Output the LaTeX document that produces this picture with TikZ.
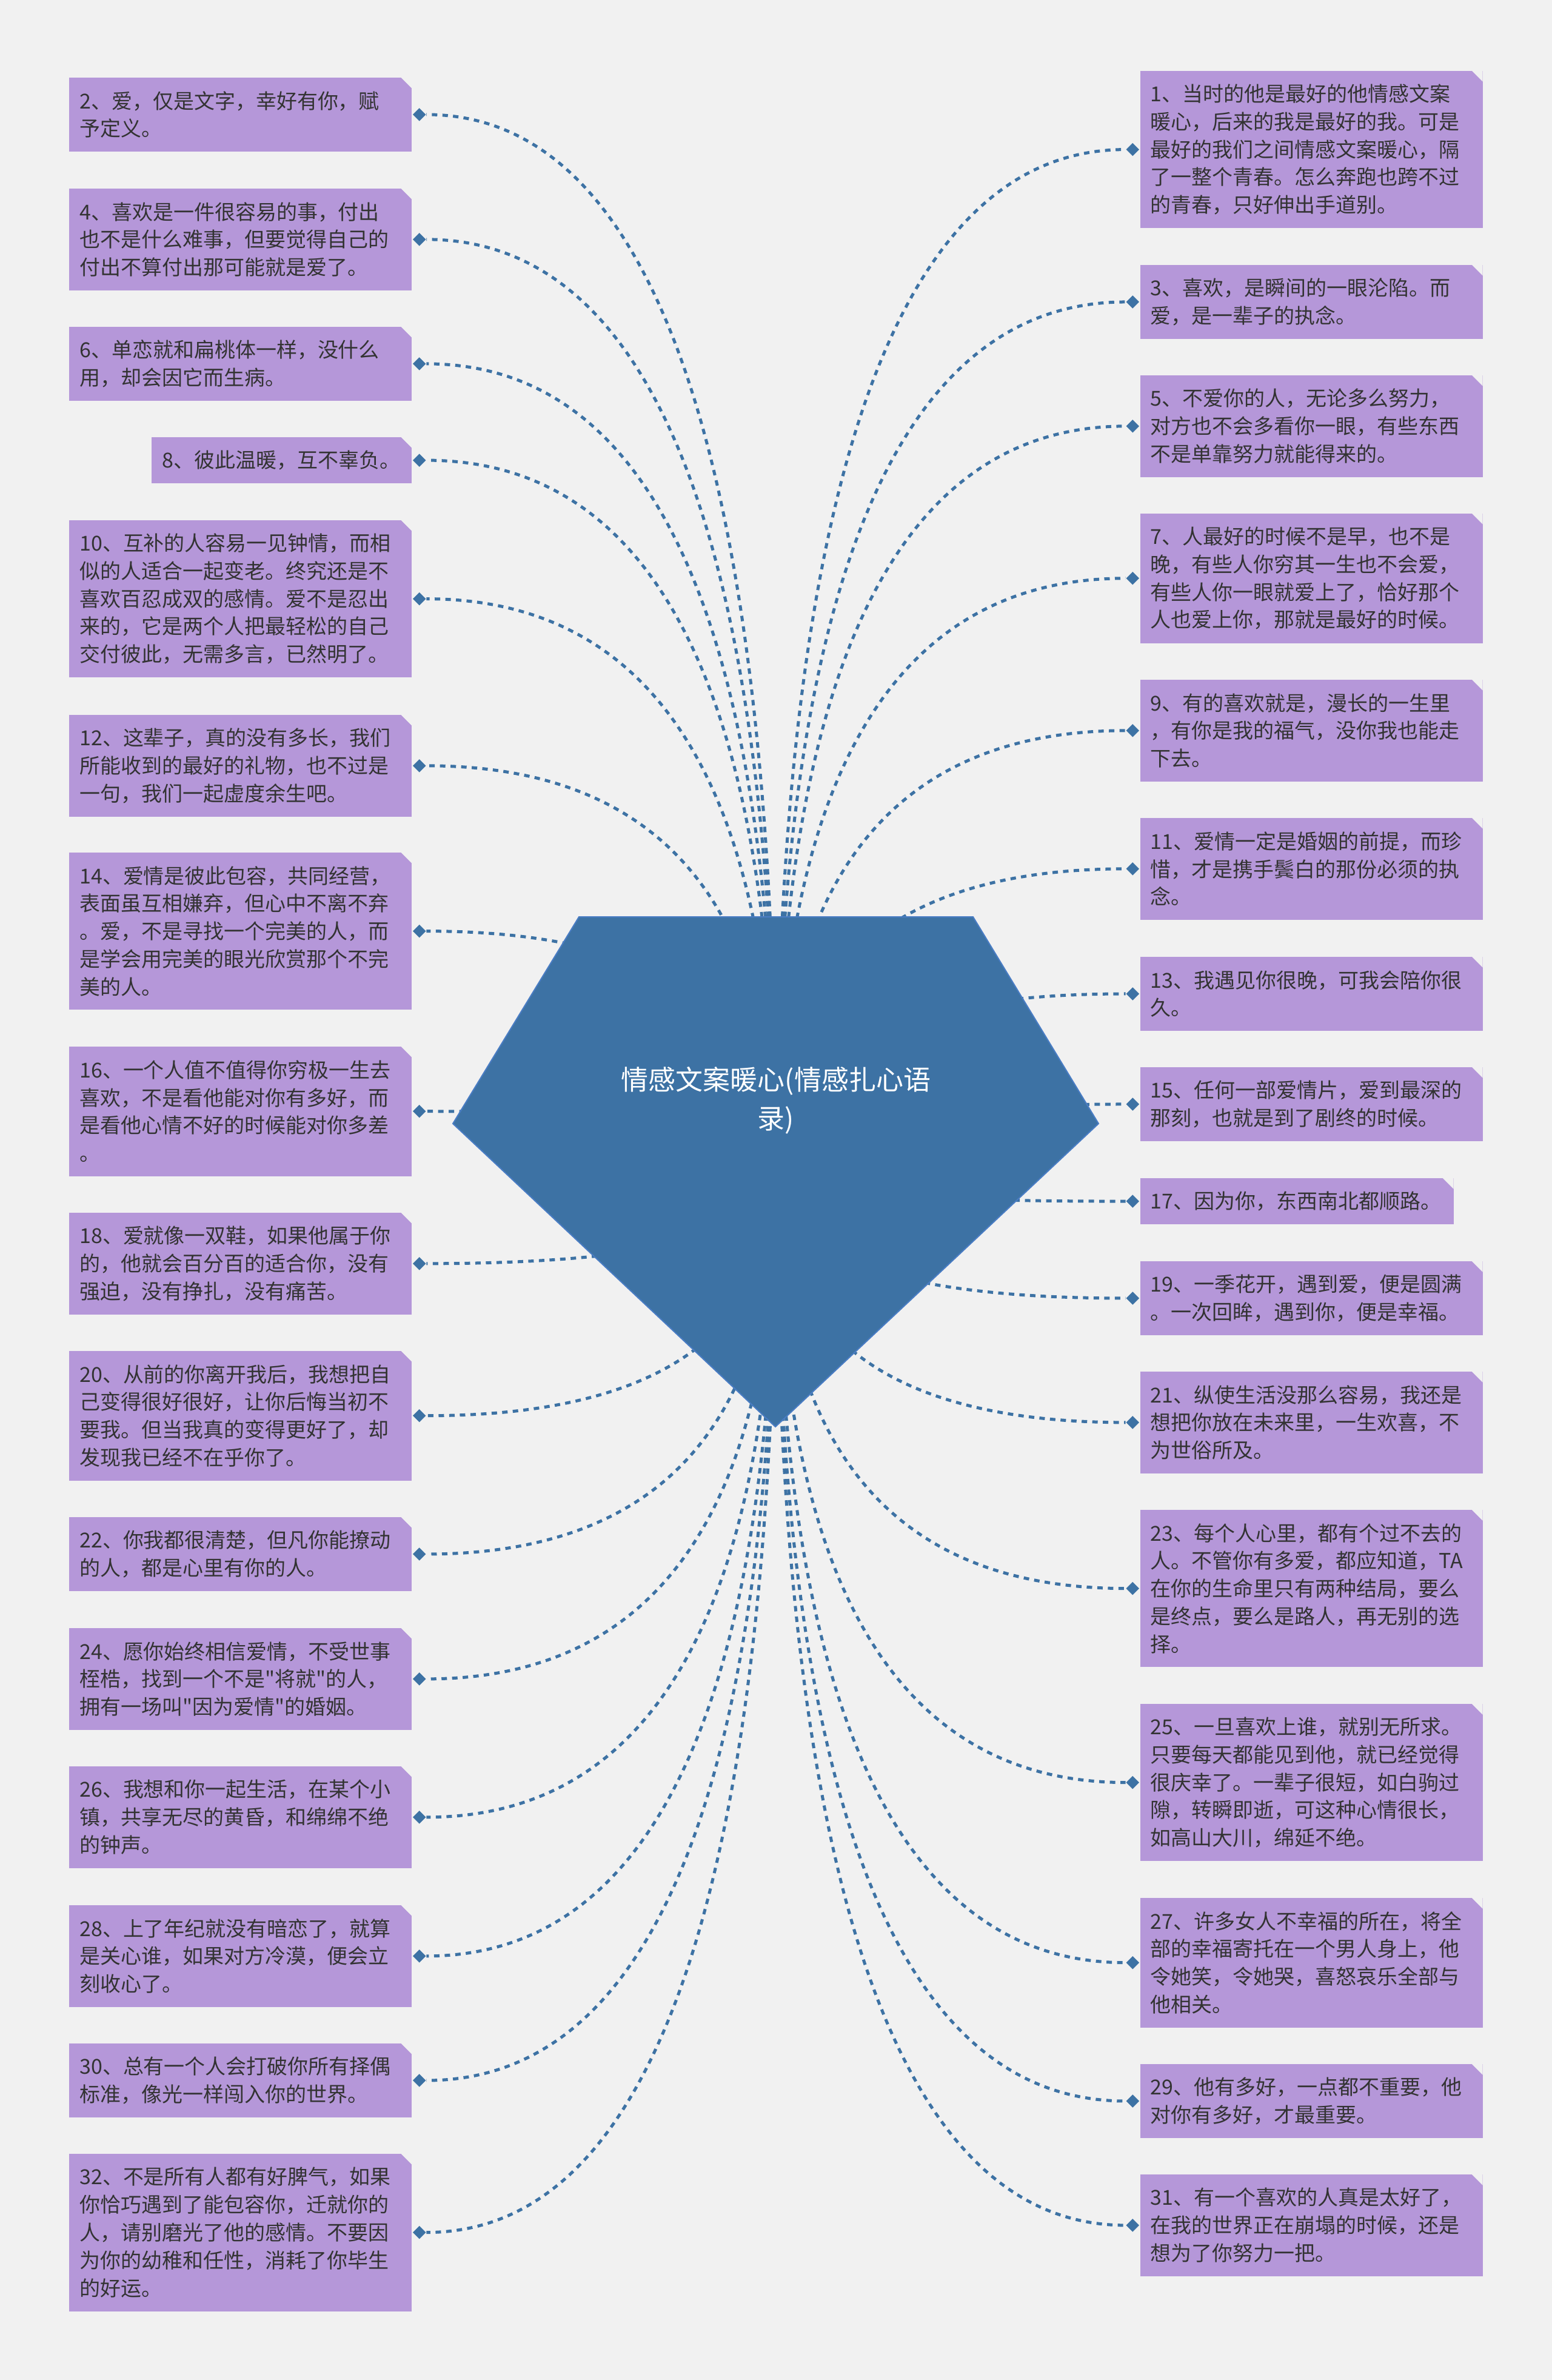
\documentclass[tikz,border=0pt]{standalone}
\usepackage{fontspec}
\setmainfont{Noto Sans CJK SC}[Ligatures=TeXOff]
\usetikzlibrary{calc,shapes.geometric}
\definecolor{paper}{HTML}{F1F1F1}
\definecolor{hubblue}{HTML}{3D72A4}
\definecolor{hubedge}{HTML}{4A7DC4}
\definecolor{leafpurple}{HTML}{B597D9}
\definecolor{ink}{HTML}{333333}
\tikzset{
  leaf/.style={fill=leafpurple, text=ink, font=\fontsize{9.67pt}{13.02pt}\selectfont,
    align=left, text width=53.1mm, inner xsep=1.7mm, inner ysep=0pt,
    minimum height=3.1mm+4.575mm*#1,
    path picture={\fill[paper] (path picture bounding box.north east) -- ++(-1.8mm,0) -- ++(1.8mm,-1.8mm) -- cycle;}},
  lleaf/.style={leaf=#1, anchor=north east},
  rleaf/.style={leaf=#1, anchor=north west},
  knot/.style={diamond, fill=hubblue, inner sep=0pt, minimum width=2.2mm, minimum height=2.2mm},
  link/.style={hubblue, line width=0.5mm, dash pattern=on 0.9mm off 0.85mm},
  roottext/.style={text=white, align=center, font=\fontsize{12.8pt}{18.2pt}\selectfont}
}
\def\twig(#1){\draw[link] (hub) .. controls ($(hub)!.667!(hub|-#1)$) and ($(#1)!.667!(hub|-#1)$) .. (#1);}

\begin{document}
\begin{tikzpicture}
		%%%%% START %%%%%
		
		\fill[paper] (0, 0) rectangle (25.6, -39.25);
		
		% left column
		\node[lleaf=2] (b2) at (6.80, -1.27) {2、爱，仅是文字，幸好有你，赋\\予定义。};
		\node[lleaf=3] (b4) at (6.80, -3.10) {4、喜欢是一件很容易的事，付出\\也不是什么难事，但要觉得自己的\\付出不算付出那可能就是爱了。};
		\node[lleaf=2] (b6) at (6.80, -5.38) {6、单恋就和扁桃体一样，没什么\\用，却会因它而生病。};
		\node[lleaf=1, text width=39.5mm] (b8) at (6.80, -7.20) {8、彼此温暖，互不辜负。};
		\node[lleaf=5] (b10) at (6.80, -8.57) {10、互补的人容易一见钟情，而相\\似的人适合一起变老。终究还是不\\喜欢百忍成双的感情。爱不是忍出\\来的，它是两个人把最轻松的自己\\交付彼此，无需多言，已然明了。};
		\node[lleaf=3] (b12) at (6.80, -11.78) {12、这辈子，真的没有多长，我们\\所能收到的最好的礼物，也不过是\\一句，我们一起虚度余生吧。};
		\node[lleaf=5] (b14) at (6.80, -14.05) {14、爱情是彼此包容，共同经营，\\表面虽互相嫌弃，但心中不离不弃\\。爱，不是寻找一个完美的人，而\\是学会用完美的眼光欣赏那个不完\\美的人。};
		\node[lleaf=4] (b16) at (6.80, -17.25) {16、一个人值不值得你穷极一生去\\喜欢，不是看他能对你有多好，而\\是看他心情不好的时候能对你多差\\。};
		\node[lleaf=3] (b18) at (6.80, -19.99) {18、爱就像一双鞋，如果他属于你\\的，他就会百分百的适合你，没有\\强迫，没有挣扎，没有痛苦。};
		\node[lleaf=4] (b20) at (6.80, -22.27) {20、从前的你离开我后，我想把自\\己变得很好很好，让你后悔当初不\\要我。但当我真的变得更好了，却\\发现我已经不在乎你了。};
		\node[lleaf=2] (b22) at (6.80, -25.01) {22、你我都很清楚，但凡你能撩动\\的人，都是心里有你的人。};
		\node[lleaf=3] (b24) at (6.80, -26.84) {24、愿你始终相信爱情，不受世事\\桎梏，找到一个不是"将就"的人，\\拥有一场叫"因为爱情"的婚姻。};
		\node[lleaf=3] (b26) at (6.80, -29.12) {26、我想和你一起生活，在某个小\\镇，共享无尽的黄昏，和绵绵不绝\\的钟声。};
		\node[lleaf=3] (b28) at (6.80, -31.41) {28、上了年纪就没有暗恋了，就算\\是关心谁，如果对方冷漠，便会立\\刻收心了。};
		\node[lleaf=2] (b30) at (6.80, -33.69) {30、总有一个人会打破你所有择偶\\标准，像光一样闯入你的世界。};
		\node[lleaf=5] (b32) at (6.80, -35.51) {32、不是所有人都有好脾气，如果\\你恰巧遇到了能包容你，迁就你的\\人，请别磨光了他的感情。不要因\\为你的幼稚和任性，消耗了你毕生\\的好运。};
		
		% right column
		\node[rleaf=5] (r1) at (18.80, -1.16) {1、当时的他是最好的他情感文案\\暖心，后来的我是最好的我。可是\\最好的我们之间情感文案暖心，隔\\了一整个青春。怎么奔跑也跨不过\\的青春，只好伸出手道别。};
		\node[rleaf=2] (r3) at (18.80, -4.36) {3、喜欢，是瞬间的一眼沦陷。而\\爱，是一辈子的执念。};
		\node[rleaf=3] (r5) at (18.80, -6.18) {5、不爱你的人，无论多么努力，\\对方也不会多看你一眼，有些东西\\不是单靠努力就能得来的。};
		\node[rleaf=4] (r7) at (18.80, -8.46) {7、人最好的时候不是早，也不是\\晚，有些人你穷其一生也不会爱，\\有些人你一眼就爱上了，恰好那个\\人也爱上你，那就是最好的时候。};
		\node[rleaf=3] (r9) at (18.80, -11.20) {9、有的喜欢就是，漫长的一生里\\，有你是我的福气，没你我也能走\\下去。};
		\node[rleaf=3] (r11) at (18.80, -13.48) {11、爱情一定是婚姻的前提，而珍\\惜，才是携手鬓白的那份必须的执\\念。};
		\node[rleaf=2] (r13) at (18.80, -15.77) {13、我遇见你很晚，可我会陪你很\\久。};
		\node[rleaf=2] (r15) at (18.80, -17.59) {15、任何一部爱情片，爱到最深的\\那刻，也就是到了剧终的时候。};
		\node[rleaf=1, text width=48.3mm] (r17) at (18.80, -19.42) {17、因为你，东西南北都顺路。};
		\node[rleaf=2] (r19) at (18.80, -20.79) {19、一季花开，遇到爱，便是圆满\\。一次回眸，遇到你，便是幸福。};
		\node[rleaf=3] (r21) at (18.80, -22.61) {21、纵使生活没那么容易，我还是\\想把你放在未来里，一生欢喜，不\\为世俗所及。};
		\node[rleaf=5] (r23) at (18.80, -24.89) {23、每个人心里，都有个过不去的\\人。不管你有多爱，都应知道，TA\\在你的生命里只有两种结局，要么\\是终点，要么是路人，再无别的选\\择。};
		\node[rleaf=5] (r25) at (18.80, -28.09) {25、一旦喜欢上谁，就别无所求。\\只要每天都能见到他，就已经觉得\\很庆幸了。一辈子很短，如白驹过\\隙，转瞬即逝，可这种心情很长，\\如高山大川，绵延不绝。};
		\node[rleaf=4] (r27) at (18.80, -31.29) {27、许多女人不幸福的所在，将全\\部的幸福寄托在一个男人身上，他\\令她笑，令她哭，喜怒哀乐全部与\\他相关。};
		\node[rleaf=2] (r29) at (18.80, -34.03) {29、他有多好，一点都不重要，他\\对你有多好，才最重要。};
		\node[rleaf=3] (r31) at (18.80, -35.85) {31、有一个喜欢的人真是太好了，\\在我的世界正在崩塌的时候，还是\\想为了你努力一把。};
		
		% diamonds
		\node[knot, anchor=west] (k2) at (b2.east) {};
		\node[knot, anchor=west] (k4) at (b4.east) {};
		\node[knot, anchor=west] (k6) at (b6.east) {};
		\node[knot, anchor=west] (k8) at (b8.east) {};
		\node[knot, anchor=west] (k10) at (b10.east) {};
		\node[knot, anchor=west] (k12) at (b12.east) {};
		\node[knot, anchor=west] (k14) at (b14.east) {};
		\node[knot, anchor=west] (k16) at (b16.east) {};
		\node[knot, anchor=west] (k18) at (b18.east) {};
		\node[knot, anchor=west] (k20) at (b20.east) {};
		\node[knot, anchor=west] (k22) at (b22.east) {};
		\node[knot, anchor=west] (k24) at (b24.east) {};
		\node[knot, anchor=west] (k26) at (b26.east) {};
		\node[knot, anchor=west] (k28) at (b28.east) {};
		\node[knot, anchor=west] (k30) at (b30.east) {};
		\node[knot, anchor=west] (k32) at (b32.east) {};
		\node[knot, anchor=east] (k1) at (r1.west) {};
		\node[knot, anchor=east] (k3) at (r3.west) {};
		\node[knot, anchor=east] (k5) at (r5.west) {};
		\node[knot, anchor=east] (k7) at (r7.west) {};
		\node[knot, anchor=east] (k9) at (r9.west) {};
		\node[knot, anchor=east] (k11) at (r11.west) {};
		\node[knot, anchor=east] (k13) at (r13.west) {};
		\node[knot, anchor=east] (k15) at (r15.west) {};
		\node[knot, anchor=east] (k17) at (r17.west) {};
		\node[knot, anchor=east] (k19) at (r19.west) {};
		\node[knot, anchor=east] (k21) at (r21.west) {};
		\node[knot, anchor=east] (k23) at (r23.west) {};
		\node[knot, anchor=east] (k25) at (r25.west) {};
		\node[knot, anchor=east] (k27) at (r27.west) {};
		\node[knot, anchor=east] (k29) at (r29.west) {};
		\node[knot, anchor=east] (k31) at (r31.west) {};
		
		% connectors
		\coordinate (hub) at (12.80, -19.32);
		\twig(k2) \twig(k4) \twig(k6) \twig(k8) \twig(k10) \twig(k12) \twig(k14) \twig(k16)
		\twig(k18) \twig(k20) \twig(k22) \twig(k24) \twig(k26) \twig(k28) \twig(k30) \twig(k32)
		\twig(k1) \twig(k3) \twig(k5) \twig(k7) \twig(k9) \twig(k11) \twig(k13) \twig(k15)
		\twig(k17) \twig(k19) \twig(k21) \twig(k23) \twig(k25) \twig(k27) \twig(k29) \twig(k31)
		
		% centre
		\draw[fill=hubblue, draw=hubedge, line width=0.2mm] (9.55, -15.12) -- (16.05, -15.12) -- (18.12, -18.53) -- (12.79, -23.53) -- (7.47, -18.53) -- cycle;
		\node[roottext] (root) at (12.80, -18.15) {情感文案暖心(情感扎心语\\录)};
		
		%%%%% END %%%%%
\end{tikzpicture}
\end{document}
